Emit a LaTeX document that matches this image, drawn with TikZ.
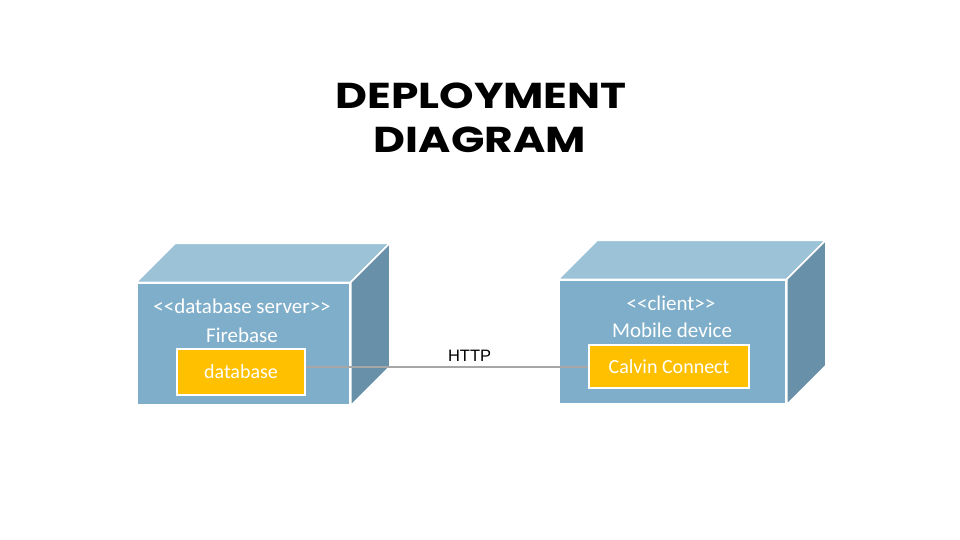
\documentclass[tikz,border=0pt]{standalone}
\usepackage{fontspec}
\setmainfont{Carlito}[Ligatures=TeXOff]
\newfontfamily\titlefont{Poppins}
\newfontfamily\labelfont{Liberation Sans}
\usetikzlibrary{positioning}
\definecolor{frontblue}{HTML}{7FAECA}
\definecolor{topblue}{HTML}{9BC2D7}
\definecolor{sideblue}{HTML}{6890A8}
\definecolor{artgold}{HTML}{FFC000}
\definecolor{linkgray}{HTML}{A6A6A6}
\begin{document}
\begin{tikzpicture}[x=1pt,y=-1pt,
    front/.style={rectangle,fill=frontblue,draw=white,line width=1.5pt,inner sep=0pt},
    face/.style={draw=white,line width=1.5pt,line join=round},
    artifact/.style={rectangle,fill=artgold,draw=white,line width=1.5pt,inner sep=0pt,
        font=\fontsize{20}{24}\selectfont,text=white},
    caption/.style={anchor=base,inner sep=0pt,text=white,font=\fontsize{21}{24}\selectfont},
    heading/.style={font=\titlefont\bfseries\fontsize{36}{40}\selectfont},
    link/.style={draw=linkgray,line width=2pt}]
  \useasboundingbox[fill=white] (0,0) rectangle (960,540);

  % title
  \node[heading] (title) at (481,95.5) {\scalebox{1.22}[1]{DEPLOYMENT}};
  \node[heading] (title2) at (480,139.5) {\scalebox{1.22}[1]{DIAGRAM}};

  % nodes
  \node[front,minimum width=213pt,minimum height=122pt] (server) at (243.5,344) {};
  \node[front,minimum width=227pt,minimum height=124pt] (phone) at (672.5,342) {};
  \foreach \n in {server,phone} {
    \draw[face,fill=topblue] (\n.north west) -- ([shift={(39,-39)}]\n.north west)
      -- ([shift={(39,-39)}]\n.north east) -- (\n.north east) -- cycle;
    \draw[face,fill=sideblue] (\n.north east) -- ([shift={(39,-39)}]\n.north east)
      -- ([shift={(39,-39)}]\n.south east) -- (\n.south east) -- cycle;
  }

  \node[caption] (stype) at (242,313) {<<database server>>};
  \node[caption] (sname) at (242,342) {Firebase};
  \node[caption] (ptype) at (671,310) {<<client>>};
  \node[caption] (pname) at (672,337) {Mobile device};

  \node[artifact,minimum width=128pt,minimum height=46pt] (db) at (241,372) {database};
  \node[artifact,minimum width=160pt,minimum height=43pt] (app) at (669,366.5) {Calvin Connect};

  \draw[link] (db.east |- app.west) -- node[pos=0.58,above=1pt,text=black,
    font=\labelfont\fontsize{16.5}{20}\selectfont] (http) {HTTP} (app.west);
\end{tikzpicture}
\end{document}
